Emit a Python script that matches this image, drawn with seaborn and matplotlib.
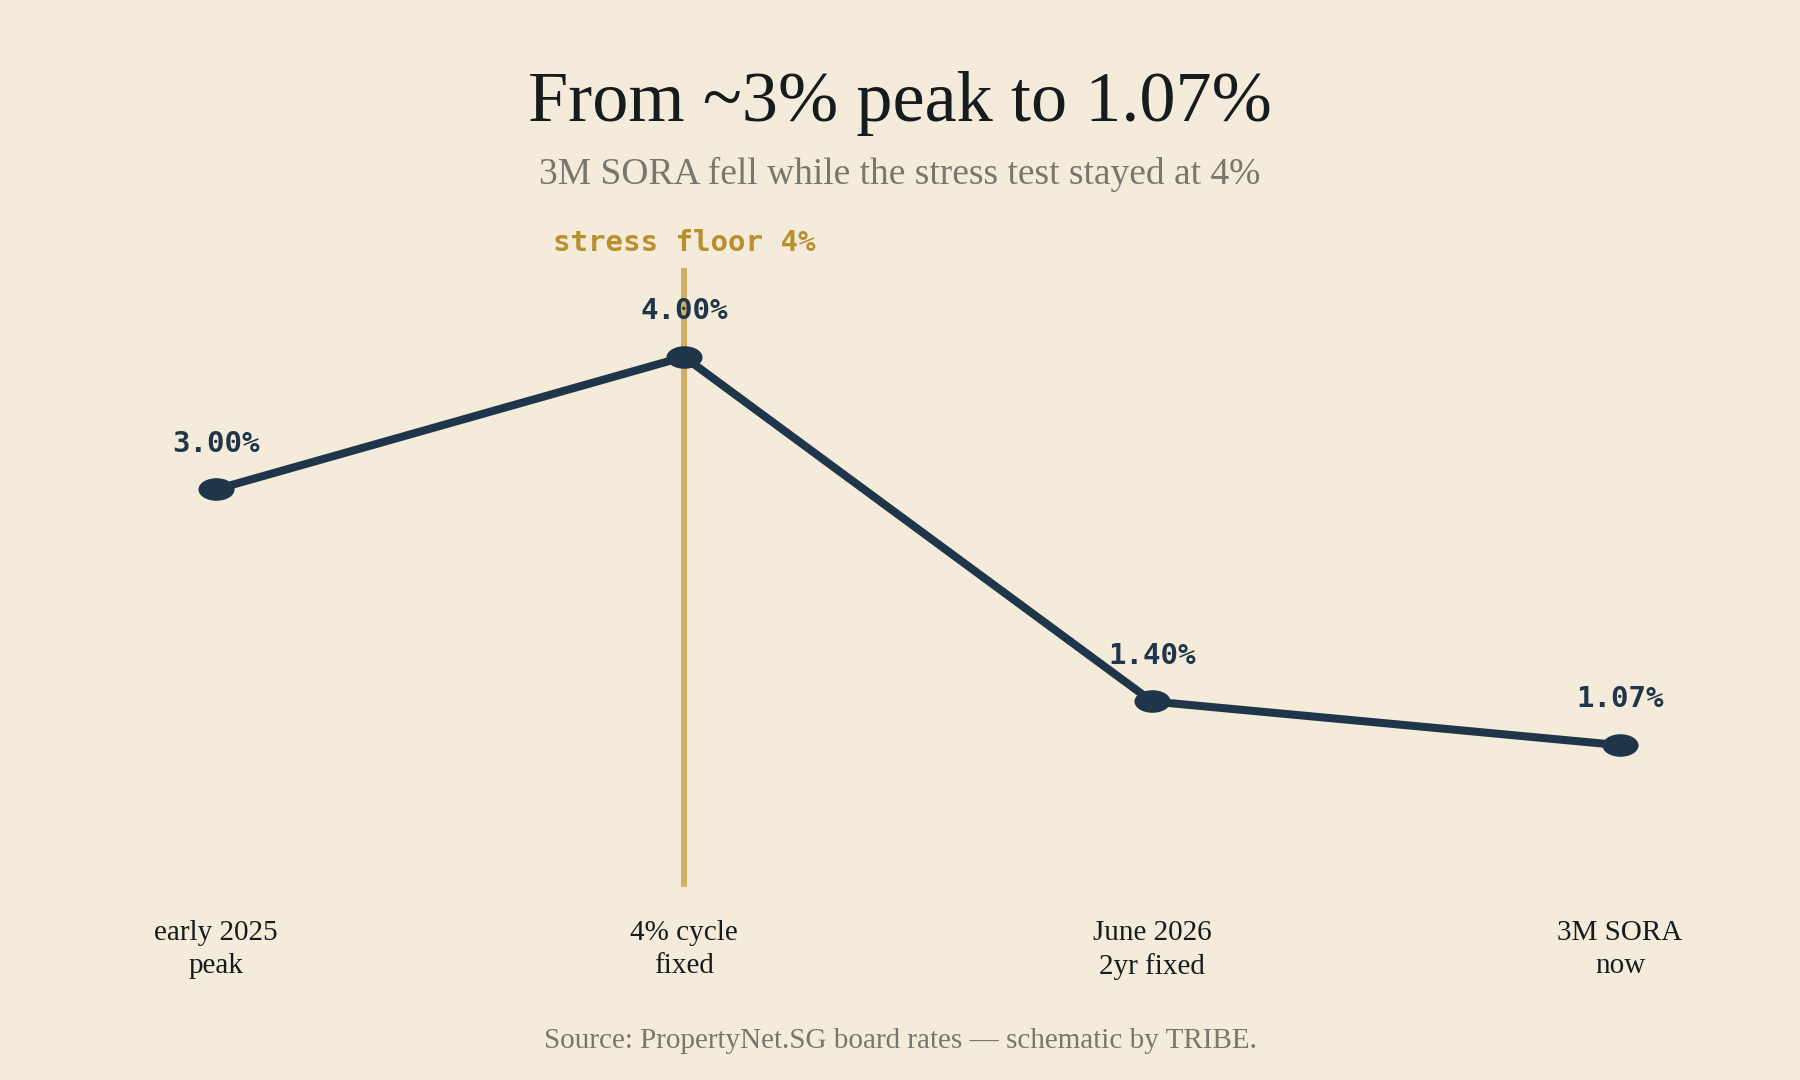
import matplotlib
matplotlib.use("Agg")
import matplotlib.pyplot as plt
import seaborn as sns
import pandas as pd
from matplotlib.path import Path
from matplotlib.transforms import Affine2D, blended_transform_factory

categories = ["early 2025\npeak", "4% cycle\nfixed", "June 2026\n2yr fixed", "3M SORA\nnow"]
rates = [3.00, 4.00, 1.40, 1.07]
value_labels = ["3.00%", "4.00%", "1.40%", "1.07%"]
stress_floor_index = 1
stress_label = "stress floor 4%"

title = "From ~3% peak to 1.07%"
subtitle = "3M SORA fell while the stress test stayed at 4%"
source = "Source: PropertyNet.SG board rates \u2014 schematic by TRIBE."

BG = "#F5EBDA"
NAVY = "#1F364A"
GOLD_LINE = "#D4AF62"
GOLD_TEXT = "#B8902E"
DARK = "#141C1E"
GREY = "#77776F"

sns.set_theme(style="white")
plt.rcParams["font.family"] = ["Liberation Serif", "DejaVu Serif"]

df = pd.DataFrame({"idx": range(len(categories)), "rate": rates})

fig = plt.figure(figsize=(18, 10.8), dpi=100, facecolor=BG)
ax = fig.add_axes([0.042, 0.1787, 0.936, 0.5731])
ax.set_facecolor(BG)

ax.axvline(stress_floor_index, color=GOLD_LINE, lw=4.3, zorder=1)

ellipse = Path.unit_circle().transformed(Affine2D().scale(1.6, 1.0))
sns.lineplot(data=df, x="idx", y="rate", ax=ax, color=NAVY, lw=5.8,
             marker=ellipse, markersize=26, markeredgewidth=0,
             markerfacecolor=NAVY, zorder=3)

for i, (r, lab) in enumerate(zip(rates, value_labels)):
    ax.annotate(lab, (i, r), xytext=(0, 33), textcoords="offset points",
                ha="center", va="center", fontsize=21, fontweight="bold",
                family="DejaVu Sans Mono", color=NAVY, zorder=4)

ax.set_xlim(-0.3, 3.3)
ax.set_ylim(0, 4.67)
ax.set_xticks(range(len(categories)))
ax.set_xticklabels(categories, fontsize=21, color=DARK, linespacing=1.32)
ax.tick_params(axis="x", length=0, pad=24)
ax.set_yticks([])
ax.set_xlabel("")
ax.set_ylabel("")
for s in ax.spines.values():
    s.set_visible(False)

trans = blended_transform_factory(ax.transData, fig.transFigure)
fig.text(stress_floor_index, 1 - 243 / 1080, stress_label, transform=trans,
         ha="center", va="center", fontsize=21, fontweight="bold",
         family="DejaVu Sans Mono", color=GOLD_TEXT)

fig.text(0.5, 1 - 103 / 1080, title, ha="center", va="center", fontsize=52, color=DARK)
fig.text(0.5, 1 - 174 / 1080, subtitle, ha="center", va="center", fontsize=27, color=GREY)
fig.text(0.5, 1 - 1041 / 1080, source, ha="center", va="center", fontsize=21, color=GREY)

fig.savefig("out.png", dpi=100, facecolor=BG)
